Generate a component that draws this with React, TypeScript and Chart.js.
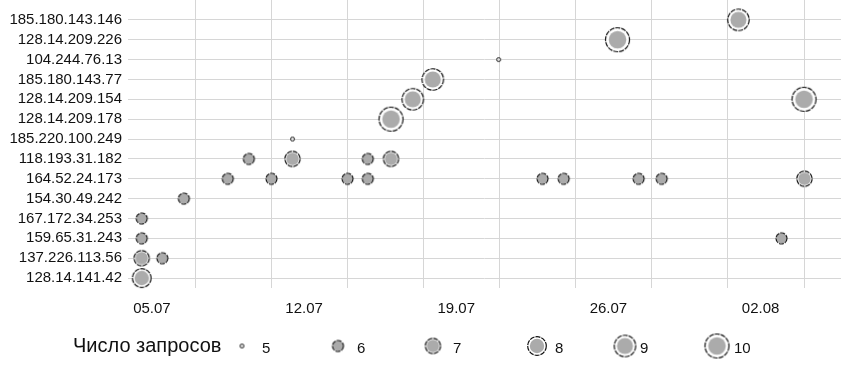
import React, { useEffect, useRef } from "react";
import { Chart, registerables } from "chart.js";

Chart.register(...registerables);

// ---- data ----
const ipLabels = [
  "185.180.143.146",
  "128.14.209.226",
  "104.244.76.13",
  "185.180.143.77",
  "128.14.209.154",
  "128.14.209.178",
  "185.220.100.249",
  "118.193.31.182",
  "164.52.24.173",
  "154.30.49.242",
  "167.172.34.253",
  "159.65.31.243",
  "137.226.113.56",
  "128.14.141.42",
];

// one entry per bubble: source IP, day (day of July; 32 = 01.08), number of requests
const pointIps = [
  "185.180.143.146",
  "128.14.209.226",
  "104.244.76.13",
  "185.180.143.77",
  "128.14.209.154",
  "128.14.209.154",
  "128.14.209.178",
  "185.220.100.249",
  "118.193.31.182",
  "118.193.31.182",
  "118.193.31.182",
  "118.193.31.182",
  "164.52.24.173",
  "164.52.24.173",
  "164.52.24.173",
  "164.52.24.173",
  "164.52.24.173",
  "164.52.24.173",
  "164.52.24.173",
  "164.52.24.173",
  "164.52.24.173",
  "154.30.49.242",
  "167.172.34.253",
  "159.65.31.243",
  "159.65.31.243",
  "137.226.113.56",
  "137.226.113.56",
  "128.14.141.42",
];
const pointDays = [
  31.98, 26.42, 20.95, 17.92, 17.0, 35.0, 16.0, 11.47, 9.46, 11.47, 14.93, 16.0,
  8.49, 10.5, 14.0, 14.93, 22.97, 23.94, 27.39, 28.45, 35.02, 6.47, 4.53, 4.53,
  33.96, 4.53, 5.48, 4.53,
];
const pointCounts = [
  9, 10, 5, 9, 9, 10, 10, 5, 6, 7, 6, 7, 6, 6, 6, 6, 6, 6, 6, 6, 7, 6, 6, 6, 6, 7,
  6, 8,
];

const xTickDays = [5, 12, 19, 26, 33];
const xTickLabels = ["05.07", "12.07", "19.07", "26.07", "02.08"];
const xGridDays = [7, 10.5, 14, 17.5, 21, 24.5, 28, 31.5, 35];

const legendTitle = "Число запросов";
const legendCounts = [5, 6, 7, 8, 9, 10];

// ---- styling helpers ----
const FONT = '"Liberation Sans", Arial, sans-serif';

function radiusFor(c: number): number {
  if (c <= 5) return 2.5;
  return 12.5 * Math.sqrt((c - 4.8) / 5.2);
}

const symbolCache = new Map<number, HTMLCanvasElement>();
function symbolFor(c: number): HTMLCanvasElement {
  const cached = symbolCache.get(c);
  if (cached) return cached;
  const r = radiusFor(c);
  const size = Math.ceil(2 * r + 4);
  const cv = document.createElement("canvas");
  cv.width = size;
  cv.height = size;
  const g = cv.getContext("2d")!;
  const cx = size / 2;
  if (c <= 5) {
    g.beginPath();
    g.arc(cx, cx, 2, 0, Math.PI * 2);
    g.fillStyle = "#e0e0e0";
    g.fill();
    g.lineWidth = 1;
    g.strokeStyle = "#222";
    g.stroke();
  } else {
    const ro = r - 0.5;
    g.beginPath();
    g.arc(cx, cx, ro, 0, Math.PI * 2);
    g.fillStyle = "#ffffff";
    g.fill();
    const gap = Math.max(1, 1 + (r - 6) * 0.42);
    g.beginPath();
    g.arc(cx, cx, r - gap, 0, Math.PI * 2);
    g.fillStyle = "#ababab";
    g.fill();
    g.beginPath();
    g.arc(cx, cx, ro, 0, Math.PI * 2);
    g.setLineDash([5, 1]);
    g.lineWidth = 1.2;
    g.strokeStyle = "#111";
    g.stroke();
  }
  symbolCache.set(c, cv);
  return cv;
}

const legendPlugin = {
  id: "sizeLegend",
  afterDraw(chart: any) {
    const ctx = chart.ctx as CanvasRenderingContext2D;
    const symbolX = [242, 338, 433, 537, 625, 717];
    const textX = [262, 357, 453, 555, 640, 734];
    const cy = 346;
    ctx.save();
    ctx.fillStyle = "#111";
    ctx.textBaseline = "alphabetic";
    ctx.textAlign = "left";
    ctx.font = `20px ${FONT}`;
    ctx.fillText(legendTitle, 73, 352);
    ctx.font = `15px ${FONT}`;
    legendCounts.forEach((c, i) => {
      const s = symbolFor(c);
      ctx.drawImage(s, symbolX[i] - s.width / 2, cy - s.height / 2);
      ctx.fillText(String(c), textX[i], 353);
    });
    ctx.restore();
  },
};

const noPad = (scale: any) => {
  scale.paddingTop = 0;
  scale.paddingBottom = 0;
  scale.paddingLeft = 0;
  scale.paddingRight = 0;
};

export default function App() {
  const ref = useRef<HTMLCanvasElement | null>(null);

  useEffect(() => {
    if (!ref.current) return;
    const data = pointIps.map((ip, i) => ({
      x: pointDays[i],
      y: ipLabels.indexOf(ip),
      r: radiusFor(pointCounts[i]),
      c: pointCounts[i],
    }));

    const xMin = 3.9;
    const xMax = 36.7;

    const chart = new Chart(ref.current, {
      type: "bubble",
      data: {
        datasets: [
          {
            label: legendTitle,
            data,
            pointStyle: (ctx: any) => symbolFor(ctx.raw ? ctx.raw.c : 6),
            backgroundColor: "#ababab",
            borderColor: "#111",
            borderWidth: 1,
            clip: false,
          } as any,
        ],
      },
      options: {
        responsive: false,
        maintainAspectRatio: false,
        animation: false,
        events: [],
        layout: { autoPadding: false, padding: { left: 0, right: 0, top: 0, bottom: 40 } },
        plugins: {
          legend: { display: false },
          tooltip: { enabled: false },
        },
        scales: {
          x: {
            type: "linear",
            position: "bottom",
            min: xMin,
            max: xMax,
            grid: { display: false, drawTicks: false },
            border: { display: false },
            ticks: {
              autoSkip: false,
              maxRotation: 0,
              padding: 12,
              color: "#111",
              font: { family: FONT, size: 15 },
              callback: (v: any) => {
                const i = xTickDays.indexOf(Number(v));
                return i >= 0 ? xTickLabels[i] : "";
              },
            },
            afterBuildTicks: (scale: any) => {
              scale.ticks = xTickDays.map((v) => ({ value: v }));
            },
            afterFit: (scale: any) => {
              scale.height = 40;
              noPad(scale);
            },
          },
          xg: {
            type: "linear",
            position: "bottom",
            min: xMin,
            max: xMax,
            grid: { display: true, drawTicks: false, color: "#d6d6d6", lineWidth: 1 },
            border: { display: false },
            ticks: { display: false },
            afterBuildTicks: (scale: any) => {
              scale.ticks = xGridDays.map((v) => ({ value: v }));
            },
            afterFit: (scale: any) => {
              scale.height = 0;
              noPad(scale);
            },
          },
          y: {
            type: "linear",
            reverse: true,
            min: -1,
            max: 13.5,
            grid: { display: true, drawTicks: false, color: "#d6d6d6", lineWidth: 1 },
            border: { display: false },
            ticks: {
              autoSkip: false,
              padding: 6,
              color: "#111",
              font: { family: FONT, size: 15 },
              callback: (v: any) => ipLabels[Number(v)] ?? "",
            },
            afterBuildTicks: (scale: any) => {
              scale.ticks = ipLabels.map((_, i) => ({ value: i }));
            },
            afterFit: (scale: any) => {
              scale.width = 128;
              noPad(scale);
            },
          },
        },
      } as any,
      plugins: [legendPlugin],
    });
    return () => chart.destroy();
  }, []);

  return (
    <div style={{ position: "fixed", left: 0, top: 0, width: 841, height: 368, background: "#fff" }}>
      <canvas ref={ref} width={841} height={368} style={{ display: "block" }} />
    </div>
  );
}
